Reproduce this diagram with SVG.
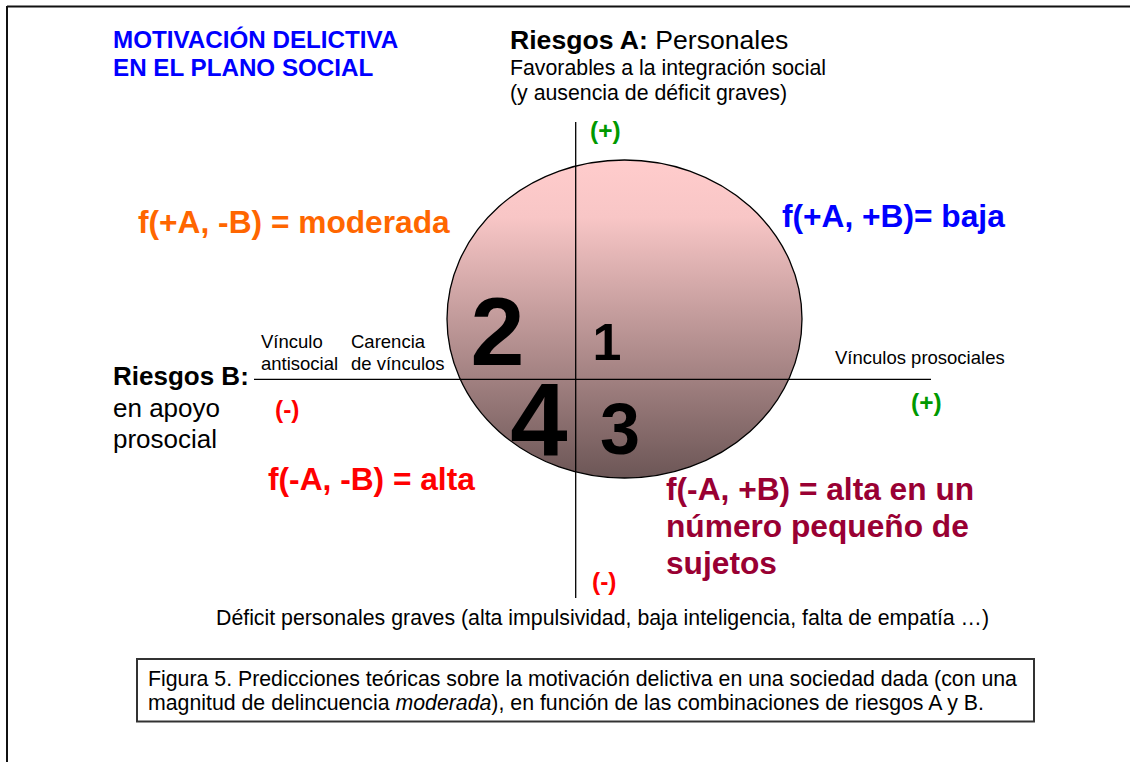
<svg xmlns="http://www.w3.org/2000/svg" width="1130" height="762" viewBox="0 0 1130 762">
<defs>
<linearGradient id="g" x1="0" y1="0" x2="0" y2="1">
<stop offset="0" stop-color="#FFCCCC"/>
<stop offset="0.18" stop-color="#F8C6C6"/>
<stop offset="1" stop-color="#6C5656"/>
</linearGradient>
<style>
text{font-family:"Liberation Sans",Arial,sans-serif;fill:#000}
.b{font-weight:bold}
.big{font-weight:bold;font-size:31.7px}
.s21{font-size:21.3px}
.s18{font-size:18.5px}
.s26{font-size:26px}
.sign{font-weight:bold;font-size:24.5px}
.axis{stroke:#000;stroke-width:1.3;fill:none}
</style>
</defs>
<rect x="0" y="0" width="1130" height="762" fill="#fff"/>
<g id="frame">
<line x1="7" y1="6.5" x2="1130" y2="6.5" stroke="#111" stroke-width="2"/>
<line x1="7" y1="6" x2="7" y2="762" stroke="#111" stroke-width="2"/>
</g>
<g id="ellipse-node">
<ellipse cx="624.5" cy="319" rx="177.5" ry="159" fill="url(#g)" stroke="#000" stroke-width="1.3"/>
</g>
<g id="connectors">
<line class="axis" x1="575.7" y1="122" x2="575.7" y2="598"/>
<line class="axis" x1="254" y1="379.3" x2="931" y2="379.3"/>
</g>
<g id="title">
<text class="b" x="113" y="48" font-size="24.2" style="fill:#0000FF">MOTIVACIÓN DELICTIVA</text>
<text class="b" x="113" y="76" font-size="24.2" style="fill:#0000FF">EN EL PLANO SOCIAL</text>
</g>
<g id="riesgos-a">
<text x="510" y="49" font-size="26.6"><tspan class="b">Riesgos A:</tspan> Personales</text>
<text class="s21" x="510" y="75">Favorables a la integración social</text>
<text class="s21" x="510" y="100">(y ausencia de déficit graves)</text>
</g>
<g id="riesgos-b">
<text class="s26 b" x="113" y="385">Riesgos B:</text>
<text class="s26" x="113" y="417">en apoyo</text>
<text class="s26" x="113" y="448">prosocial</text>
</g>
<g id="axis-labels">
<text class="s18" x="261" y="348">Vínculo</text>
<text class="s18" x="261" y="370">antisocial</text>
<text class="s18" x="351" y="348">Carencia</text>
<text class="s18" x="351" y="370">de vínculos</text>
<text class="s18" x="835" y="364">Vínculos prosociales</text>
<text class="s21" x="216" y="625">Déficit personales graves (alta impulsividad, baja inteligencia, falta de empatía …)</text>
</g>
<g id="signs">
<text class="sign" x="590" y="139" style="fill:#009900">(+)</text>
<text class="sign" x="911" y="411" style="fill:#009900">(+)</text>
<text class="sign" x="275" y="418" style="fill:#FF0000">(-)</text>
<text class="sign" x="592" y="590" style="fill:#FF0000">(-)</text>
</g>
<g id="quadrant-numbers">
<text class="b" x="497.5" y="365" font-size="97" text-anchor="middle">2</text>
<text class="b" x="607" y="360" font-size="52" text-anchor="middle">1</text>
<text class="b" x="539" y="456" font-size="103" text-anchor="middle">4</text>
<text class="b" x="620" y="454" font-size="72" text-anchor="middle">3</text>
</g>
<g id="label-moderada">
<text class="big" x="138" y="233" style="fill:#FF6600">f(+A, -B) = moderada</text>
</g>
<g id="label-baja">
<text class="big" x="782" y="227" style="fill:#0000FF">f(+A, +B)= baja</text>
</g>
<g id="label-alta">
<text class="big" x="268" y="490" style="fill:#FF0000">f(-A, -B) = alta</text>
</g>
<g id="label-alta-pequeno">
<text class="big" x="666" y="500" style="fill:#990033">f(-A, +B) = alta en un</text>
<text class="big" x="666" y="537" style="fill:#990033">número pequeño de</text>
<text class="big" x="666" y="574" style="fill:#990033">sujetos</text>
</g>
<g id="caption">
<rect x="137" y="659" width="897" height="62.5" fill="#fff" stroke="#333" stroke-width="2"/>
<text class="s21" x="148" y="686">Figura 5. Predicciones teóricas sobre la motivación delictiva en una sociedad dada (con una</text>
<text class="s21" x="148" y="710">magnitud de delincuencia <tspan font-style="italic">moderada</tspan>), en función de las combinaciones de riesgos A y B.</text>
</g>
</svg>
